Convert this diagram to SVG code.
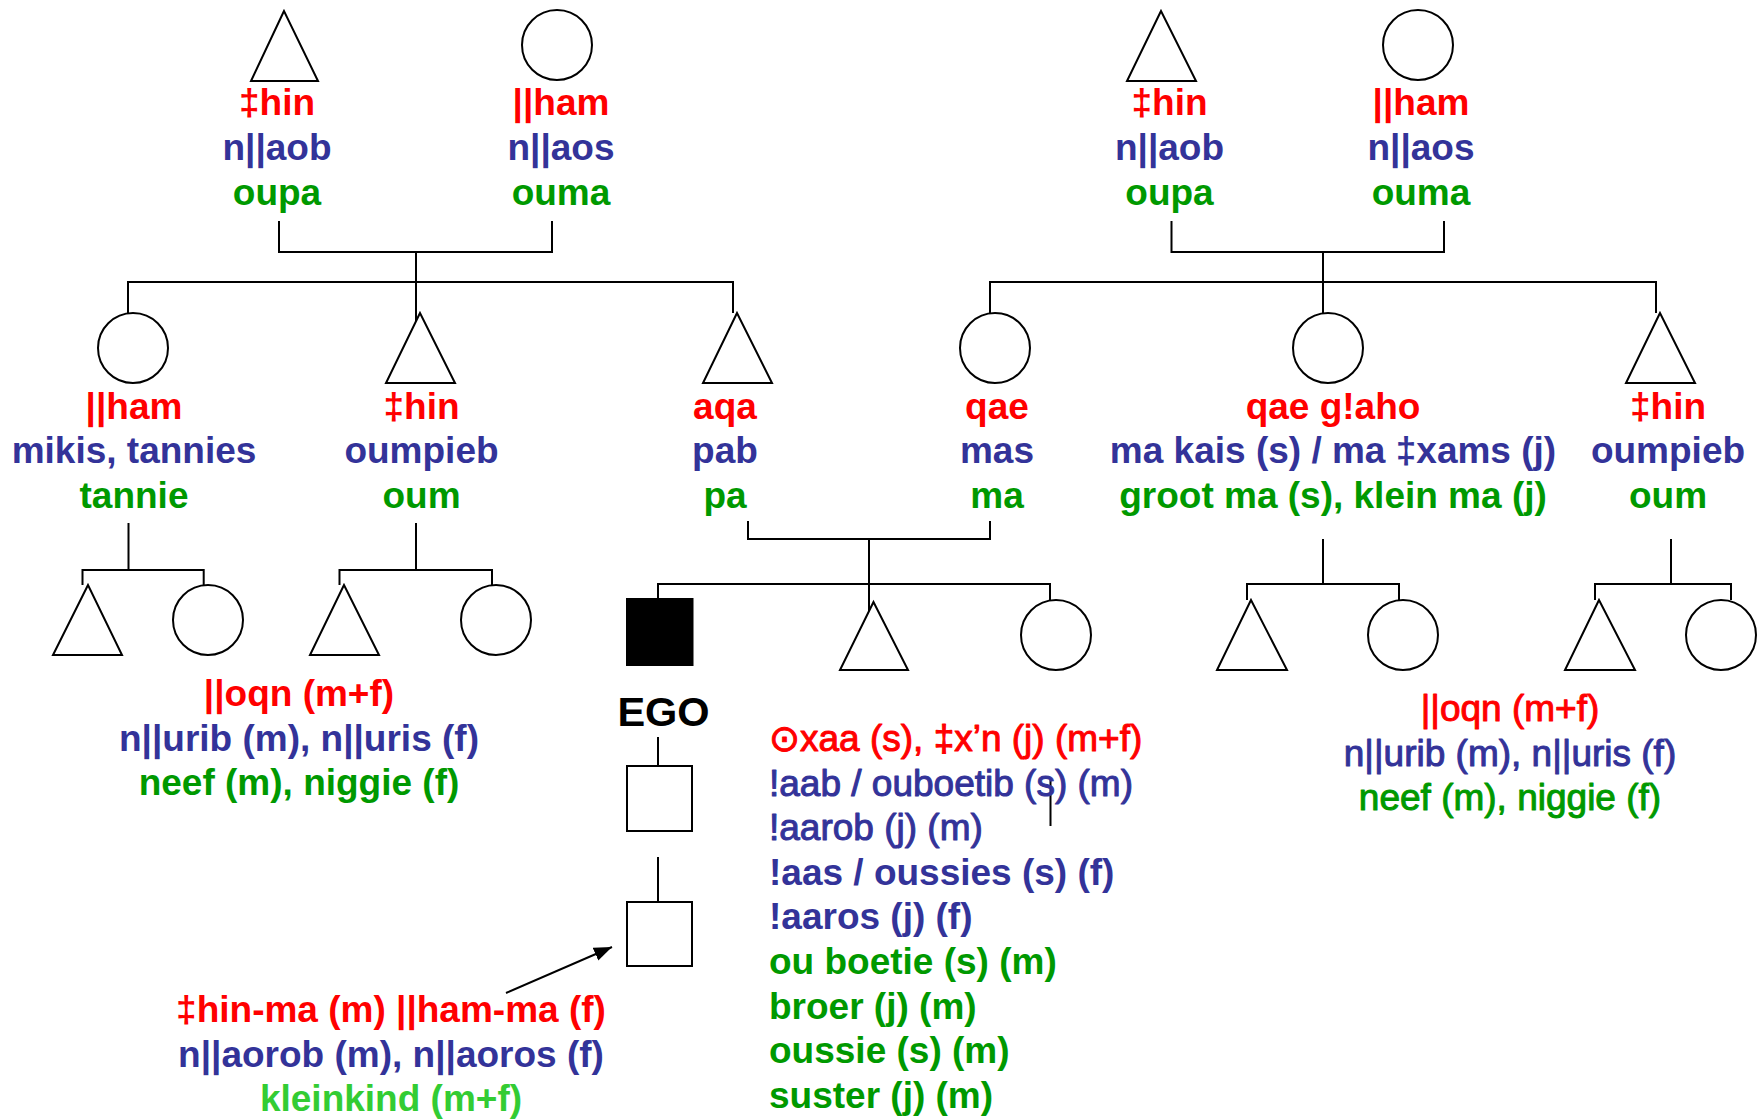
<svg xmlns="http://www.w3.org/2000/svg" width="1758" height="1120" viewBox="0 0 1758 1120">
<defs>
<style>
text{font-family:"Liberation Sans",Arial,sans-serif;font-weight:bold;font-size:37px}
.n{font-weight:normal;stroke-width:1px;stroke-linejoin:round}
.m{text-anchor:middle}
.r{fill:#FF0000}
.b{fill:#333399}
.g{fill:#009900}
.n.r{stroke:#FF0000}
.n.b{stroke:#333399}
.n.g{stroke:#009900}
.lg{fill:#33CC33}
.k{fill:#000000}
.ego{font-size:41.5px}
.sh{fill:#FFFFFF;stroke:#000000;stroke-width:2}
.fill{fill:#000000;stroke:#000000;stroke-width:2}
.ln{fill:none;stroke:#000000;stroke-width:2}
</style>
<marker id="ah" markerUnits="userSpaceOnUse" markerWidth="20" markerHeight="16" refX="18" refY="8" orient="auto">
<path d="M0,1 L18,8 L0,15 Z" fill="#000000"/>
</marker>
</defs>
<rect width="1758" height="1120" fill="#FFFFFF"/>

<g id="connectors">
<path class="ln" d="M279,221 V252 H552 V221"/>
<path class="ln" d="M416,252 V327"/>
<path class="ln" d="M128,313 V282 H733 V313"/>
<path class="ln" d="M1171.5,221 V252 H1444 V221"/>
<path class="ln" d="M1323,252 V313"/>
<path class="ln" d="M990,313 V282 H1656 V313"/>
<path class="ln" d="M748,521 V539 H990 V521"/>
<path class="ln" d="M869,539 V611"/>
<path class="ln" d="M658,599 V584 H1050 V600"/>
<path class="ln" d="M128.5,523 V570"/>
<path class="ln" d="M82.5,585 V570 H203.7 V585"/>
<path class="ln" d="M416,523 V570"/>
<path class="ln" d="M339.5,585 V570 H492 V585"/>
<path class="ln" d="M1323,539 V584"/>
<path class="ln" d="M1247,600 V584 H1399 V600"/>
<path class="ln" d="M1671,539 V584"/>
<path class="ln" d="M1595,600 V584 H1731 V600"/>
<path class="ln" d="M658,737 V766"/>
<path class="ln" d="M658,857 V902"/>
<path class="ln" d="M1050.5,780 V826"/>
<path class="ln" d="M506,993 L612,947" marker-end="url(#ah)"/>
</g>

<g id="gp1-male">
<polygon class="sh" points="284,11 251,81 318,81"/>
<text class="m r" x="277" y="115">‡hin</text>
<text class="m b" x="277" y="160">n||aob</text>
<text class="m g" x="277" y="205">oupa</text>
</g>
<g id="gp1-female">
<circle class="sh" cx="557" cy="45" r="35"/>
<text class="m r" x="561" y="115">||ham</text>
<text class="m b" x="561" y="160">n||aos</text>
<text class="m g" x="561" y="205">ouma</text>
</g>
<g id="gp2-male">
<polygon class="sh" points="1161,11 1127,81 1196,81"/>
<text class="m r" x="1169.5" y="115">‡hin</text>
<text class="m b" x="1169.5" y="160">n||aob</text>
<text class="m g" x="1169.5" y="205">oupa</text>
</g>
<g id="gp2-female">
<circle class="sh" cx="1418" cy="45" r="35"/>
<text class="m r" x="1421" y="115">||ham</text>
<text class="m b" x="1421" y="160">n||aos</text>
<text class="m g" x="1421" y="205">ouma</text>
</g>

<g id="aunt-f">
<circle class="sh" cx="133" cy="348" r="35"/>
<text class="m r" x="134" y="418.5">||ham</text>
<text class="m b" x="134" y="463">mikis, tannies</text>
<text class="m g" x="134" y="507.5">tannie</text>
</g>
<g id="uncle-f">
<polygon class="sh" points="420,313 386,383 455,383"/>
<text class="m r" x="421.5" y="418.5">‡hin</text>
<text class="m b" x="421.5" y="463">oumpieb</text>
<text class="m g" x="421.5" y="507.5">oum</text>
</g>
<g id="father">
<polygon class="sh" points="737,313 703,383 772,383"/>
<text class="m r" x="725" y="418.5">aqa</text>
<text class="m b" x="725" y="463">pab</text>
<text class="m g" x="725" y="507.5">pa</text>
</g>
<g id="mother">
<circle class="sh" cx="995" cy="348" r="35"/>
<text class="m r" x="997" y="418.5">qae</text>
<text class="m b" x="997" y="463">mas</text>
<text class="m g" x="997" y="507.5">ma</text>
</g>
<g id="aunt-m">
<circle class="sh" cx="1328" cy="348" r="35"/>
<text class="m r" x="1333" y="418.5">qae g!aho</text>
<text class="m b" x="1333" y="463">ma kais (s) / ma ‡xams (j)</text>
<text class="m g" x="1333" y="507.5">groot ma (s), klein ma (j)</text>
</g>
<g id="uncle-m">
<polygon class="sh" points="1660,313 1626,383 1695,383"/>
<text class="m r" x="1668" y="418.5">‡hin</text>
<text class="m b" x="1668" y="463">oumpieb</text>
<text class="m g" x="1668" y="507.5">oum</text>
</g>

<g id="cousins-f">
<polygon class="sh" points="88,585 53,655 122,655"/>
<circle class="sh" cx="208" cy="620" r="35"/>
<polygon class="sh" points="344,585 310,655 379,655"/>
<circle class="sh" cx="496" cy="620" r="35"/>
<text class="m r" x="299" y="706">||oqn (m+f)</text>
<text class="m b" x="299" y="750.5">n||urib (m), n||uris (f)</text>
<text class="m g" x="299" y="794.5">neef (m), niggie (f)</text>
</g>

<g id="ego">
<rect class="fill" x="627" y="599" width="65.5" height="66"/>
<text class="m k ego" x="663.5" y="725.5">EGO</text>
</g>
<g id="brother">
<polygon class="sh" points="873.5,602 840,670 908,670"/>
</g>
<g id="sister">
<circle class="sh" cx="1056" cy="635" r="35"/>
</g>
<g id="siblings-terms">
<text class="r n" x="769" y="751">⊙xaa (s), ‡x’n (j) (m+f)</text>
<text class="b n" x="769" y="795.6">!aab / ouboetib (s) (m)</text>
<text class="b n" x="769" y="840.2">!aarob (j) (m)</text>
<text class="b" x="769" y="884.8">!aas / oussies (s) (f)</text>
<text class="b" x="769" y="929.4">!aaros (j) (f)</text>
<text class="g" x="769" y="974">ou boetie (s) (m)</text>
<text class="g" x="769" y="1018.6">broer (j) (m)</text>
<text class="g" x="769" y="1063.2">oussie (s) (m)</text>
<text class="g" x="769" y="1107.8">suster (j) (m)</text>
</g>
<g id="child">
<rect class="sh" x="627" y="766" width="65" height="65"/>
</g>
<g id="grandchild">
<rect class="sh" x="627" y="902" width="65" height="64"/>
<text class="m r" x="391" y="1022">‡hin-ma (m) ||ham-ma (f)</text>
<text class="m b" x="391" y="1066.5">n||aorob (m), n||aoros (f)</text>
<text class="m lg" x="391" y="1110.5">kleinkind (m+f)</text>
</g>

<g id="cousins-m">
<polygon class="sh" points="1251,600 1217,670 1287,670"/>
<circle class="sh" cx="1403" cy="635" r="35"/>
<polygon class="sh" points="1599,600 1565,670 1635,670"/>
<circle class="sh" cx="1721" cy="635" r="35"/>
<text class="m r n" x="1510" y="721">||oqn (m+f)</text>
<text class="m b n" x="1510" y="765.5">n||urib (m), n||uris (f)</text>
<text class="m g n" x="1510" y="810">neef (m), niggie (f)</text>
</g>
</svg>
